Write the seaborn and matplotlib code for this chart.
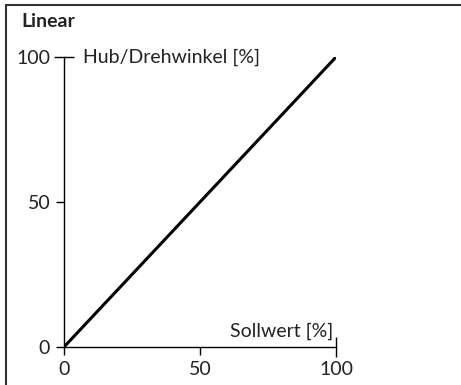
import matplotlib.pyplot as plt
import pandas as pd
import seaborn as sns
from matplotlib.lines import Line2D

# characteristic: linear setpoint -> travel
setpoint = [0, 100]
travel = [0, 100]
x_ticks = [0, 50, 100]
y_ticks = [0, 50, 100]

sns.set_theme(style="ticks")
plt.rcParams["font.family"] = ["Lato", "DejaVu Sans"]

df = pd.DataFrame({"Sollwert": setpoint, "Hub": travel})

fig = plt.figure(figsize=(4.61, 3.85), dpi=100)
ax = fig.add_axes([0.139, 0.099, 0.590, 0.753])
sns.lineplot(data=df, x="Sollwert", y="Hub", color="black", linewidth=2.2, ax=ax)

ax.set_xlim(0, 100)
ax.set_ylim(0, 100)
ax.set_xticks(x_ticks)
ax.set_yticks(y_ticks)
ax.set_xlabel("")
ax.set_ylabel("")
ax.tick_params(labelsize=14, length=6, width=1, color="black", labelcolor="#222222")
ax.tick_params(axis="x", pad=4)
ax.tick_params(axis="y", pad=4)
# the 100 ticks cross the axis
ax.xaxis.get_major_ticks()[-1].tick1line.set_marker("|")
ax.yaxis.get_major_ticks()[-1].tick1line.set_marker("_")
ax.xaxis.get_major_ticks()[-1].tick1line.set_markersize(14)
ax.yaxis.get_major_ticks()[-1].tick1line.set_markersize(14)
for side in ["top", "right"]:
    ax.spines[side].set_visible(False)
for side in ["left", "bottom"]:
    ax.spines[side].set_color("black")
    ax.spines[side].set_linewidth(1)
ax.set_facecolor("white")

ax.text(0.07, 1.0, "Hub/Drehwinkel [%]", transform=ax.transAxes,
        fontsize=14, color="#222222", ha="left", va="center")
ax.text(0.99, 0.025, "Sollwert [%]", transform=ax.transAxes,
        fontsize=14, color="#222222", ha="right", va="bottom")
fig.text(0.047, 0.945, "Linear", fontsize=14, fontweight="bold",
         color="#222222", ha="left", va="center")

# frame around the chart
fig.add_artist(Line2D([0.014, 0.014], [0.0, 0.987], color="#333333", lw=1.5))
fig.add_artist(Line2D([0.014, 1.0], [0.987, 0.987], color="#333333", lw=1.5))

fig.savefig("out.png", dpi=100)
